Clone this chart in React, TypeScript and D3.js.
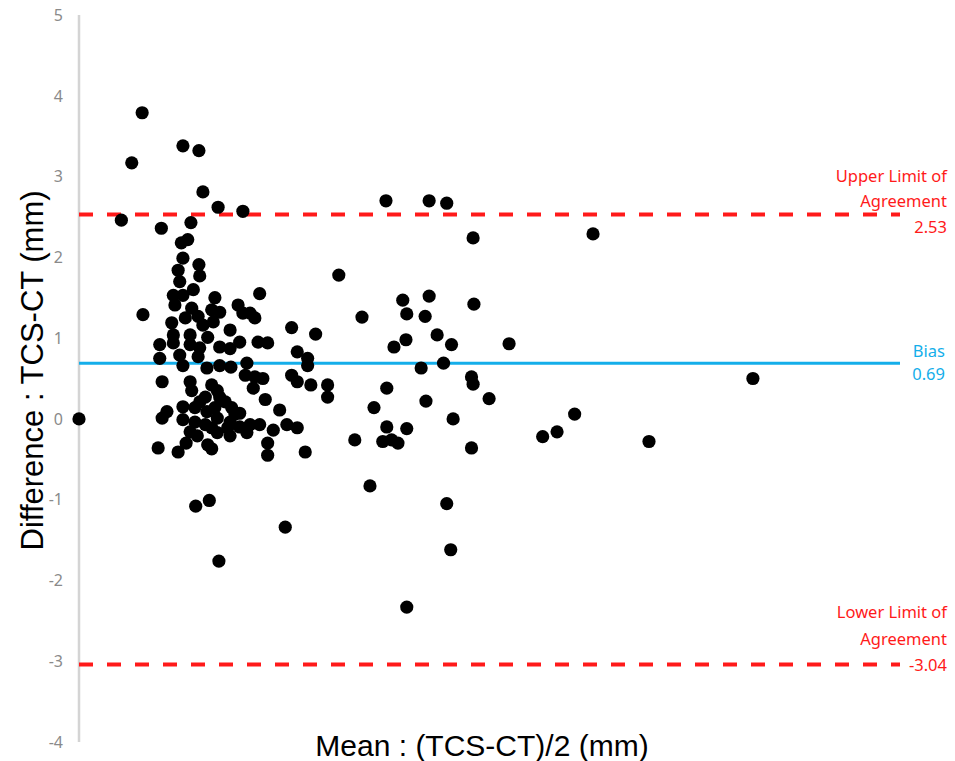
import React from "react";
import * as d3 from "d3";

// Mean of the two methods (mm) and difference (mm) for each subject
const meanVals: number[] = [
  0.79, 0.66, 1.30, 1.50, 1.55, 1.74, 2.05, 0.53, 1.03, 1.40,
  1.28, 1.36, 1.30, 1.24, 1.50, 1.51, 1.26, 1.18, 1.30, 1.43,
  1.70, 2.26, 0.80, 1.41, 1.49, 1.66, 1.76, 1.68, 1.99, 2.05,
  2.14, 2.20, 1.16, 1.18, 1.39, 1.89, 1.61, 1.01, 1.18, 1.39,
  1.51, 1.76, 1.89, 2.01, 2.24, 2.36, 2.66, 2.73, 1.01, 1.26,
  1.49, 1.30, 1.60, 1.76, 1.90, 2.10, 2.08, 2.20, 2.30, 1.04,
  1.39, 1.41, 1.66, 1.73, 1.58, 1.76, 2.18, 2.33, 2.66, 2.73,
  1.10, 1.04, 1.30, 1.45, 1.60, 1.70, 1.91, 1.95, 2.51, 1.30,
  1.45, 1.58, 1.73, 1.89, 1.39, 1.48, 1.73, 1.86, 2.01, 2.14,
  2.26, 2.43, 1.89, 2.10, 2.60, 2.73, 0.99, 1.24, 1.61, 1.66,
  2.36, 2.36, 2.83, 3.25, 3.54, 2.96, 2.86, 2.86, 2.90, 3.11,
  3.11, 3.45, 1.46, 1.63, 1.75, 2.58, 3.84, 4.38, 4.60, 4.93,
  4.05, 4.10, 4.38, 4.33, 4.94, 3.94, 4.09, 4.48, 4.66, 5.38,
  4.28, 4.56, 4.91, 4.93, 5.13, 3.85, 4.34, 3.69, 4.68, 3.85,
  4.10, 3.80, 3.91, 3.99, 4.91, 3.64, 4.60, 4.65, 4.10, 6.43,
  8.43, 6.20, 5.98, 5.80, 7.13, 0.00, 1.51, 1.83, 1.66, 1.34,
  2.01, 1.20, 1.33, 1.55,
];
const diffVals: number[] = [
  3.79, 3.17, 3.38, 3.32, 2.81, 2.62, 2.57, 2.46, 2.36, 2.43,
  2.18, 2.22, 1.99, 1.84, 1.91, 1.77, 1.70, 1.53, 1.53, 1.60,
  1.50, 1.55, 1.29, 1.37, 1.27, 1.35, 1.32, 1.20, 1.41, 1.31,
  1.31, 1.25, 1.19, 1.04, 1.04, 1.10, 1.01, 0.92, 0.94, 0.92,
  0.88, 0.89, 0.87, 0.95, 0.95, 0.94, 1.13, 0.83, 0.75, 0.79,
  0.77, 0.66, 0.63, 0.66, 0.64, 0.69, 0.54, 0.52, 0.50, 0.46,
  0.46, 0.35, 0.42, 0.35, 0.27, 0.27, 0.38, 0.24, 0.54, 0.46,
  0.09, 0.01, 0.15, 0.14, 0.09, 0.14, 0.14, 0.06, 0.11, -0.01,
  -0.04, -0.07, 0.01, -0.04, -0.16, -0.21, -0.17, -0.11, -0.10, -0.07,
  -0.07, -0.14, -0.21, -0.17, -0.07, -0.11, -0.36, -0.41, -0.32, -0.37,
  -0.30, -0.45, -0.41, 1.78, 1.26, 1.05, 0.75, 0.66, 0.42, 0.42,
  0.27, -0.26, -1.08, -1.01, -1.76, -1.34, 2.70, 2.70, 2.67, 2.24,
  1.47, 1.30, 1.52, 1.27, 1.42, 0.89, 0.98, 1.04, 0.92, 0.93,
  0.63, 0.69, 0.52, 0.43, 0.25, 0.38, 0.22, 0.14, 0.00, -0.10,
  -0.12, -0.28, -0.26, -0.30, -0.36, -0.83, -1.05, -1.62, -2.33, 2.29,
  0.50, 0.06, -0.16, -0.22, -0.28, 0.00, 0.21, 0.21, -0.11, -0.30,
  0.07, 1.41, 1.25, 1.16,
];

const yTicks: number[] = [5, 4, 3, 2, 1, 0, -1, -2, -3, -4];
const biasValue = 0.69;
const upperLoA = 2.53;
const lowerLoA = -3.04;
const upperLabels: string[] = ["Upper Limit of", "Agreement", "2.53"];
const biasLabels: string[] = ["Bias", "0.69"];
const lowerLabels: string[] = ["Lower Limit of", "Agreement", "-3.04"];
const yTitle = "Difference : TCS-CT (mm)";
const xTitle = "Mean : (TCS-CT)/2 (mm)";

const W = 955;
const H = 761;

export default function App() {
  const x = d3.scaleLinear().domain([0, 10.27]).range([79, 900]);
  const y = d3.scaleLinear().domain([-4, 5]).range([742, 15]);
  const points = meanVals.map((m, i) => ({ m, d: diffVals[i] }));
  const red = "#FF1A1A";
  const blue = "#14AEEA";
  const labelFont = "'Noto Sans', 'Open Sans', sans-serif";
  const labelX = 947;

  return (
    <svg
      width={W}
      height={H}
      style={{ position: "absolute", left: 0, top: 0, background: "#fff" }}
    >
      <rect x={0} y={0} width={W} height={H} fill="#fff" />
      {/* y axis line */}
      <line
        x1={x(0)}
        x2={x(0)}
        y1={y(5)}
        y2={y(-4)}
        stroke="#d4d4d4"
        strokeWidth={2.5}
      />
      {yTicks.map((t) => (
        <text
          key={t}
          x={63}
          y={y(t)}
          dy="0.36em"
          textAnchor="end"
          fontFamily={labelFont}
          fontSize={16}
          fill="#8a8a8a"
        >
          {t}
        </text>
      ))}

      {/* limits of agreement and bias */}
      <line
        x1={x(0)}
        x2={x(10.27)}
        y1={y(upperLoA)}
        y2={y(upperLoA)}
        stroke={red}
        strokeWidth={4}
        strokeDasharray="14 14"
      />
      <line
        x1={x(0)}
        x2={x(10.27)}
        y1={y(lowerLoA)}
        y2={y(lowerLoA)}
        stroke={red}
        strokeWidth={4}
        strokeDasharray="14 14"
      />
      <line
        x1={x(0)}
        x2={x(10.27)}
        y1={y(biasValue)}
        y2={y(biasValue)}
        stroke={blue}
        strokeWidth={3}
      />

      {/* points */}
      {points.map((p, i) => (
        <circle key={i} cx={x(p.m)} cy={y(p.d)} r={6.6} fill="#000" />
      ))}

      {/* annotations */}
      {upperLabels.map((s, i) => (
        <text
          key={"u" + i}
          x={labelX}
          y={y(upperLoA) - 33 + i * 25.5}
          textAnchor="end"
          fontFamily={labelFont}
          fontSize={16.5}
          fill={red}
        >
          {s}
        </text>
      ))}
      {biasLabels.map((s, i) => (
        <text
          key={"b" + i}
          x={labelX - 2}
          y={y(biasValue) - 6 + i * 23}
          textAnchor="end"
          fontFamily={labelFont}
          fontSize={16.5}
          fill={blue}
        >
          {s}
        </text>
      ))}
      {lowerLabels.map((s, i) => (
        <text
          key={"l" + i}
          x={labelX}
          y={y(lowerLoA) - 46 + i * 26.5}
          textAnchor="end"
          fontFamily={labelFont}
          fontSize={16.5}
          fill={red}
        >
          {s}
        </text>
      ))}

      {/* axis titles */}
      <text
        transform={`translate(43, ${y(0.6)}) rotate(-90)`}
        textAnchor="middle"
        fontFamily="'Liberation Sans', Arial, sans-serif"
        fontSize={31}
        fill="#000"
      >
        {yTitle}
      </text>
      <text
        x={482}
        y={756}
        textAnchor="middle"
        fontFamily="'Liberation Sans', Arial, sans-serif"
        fontSize={30}
        fill="#000"
      >
        {xTitle}
      </text>
    </svg>
  );
}
